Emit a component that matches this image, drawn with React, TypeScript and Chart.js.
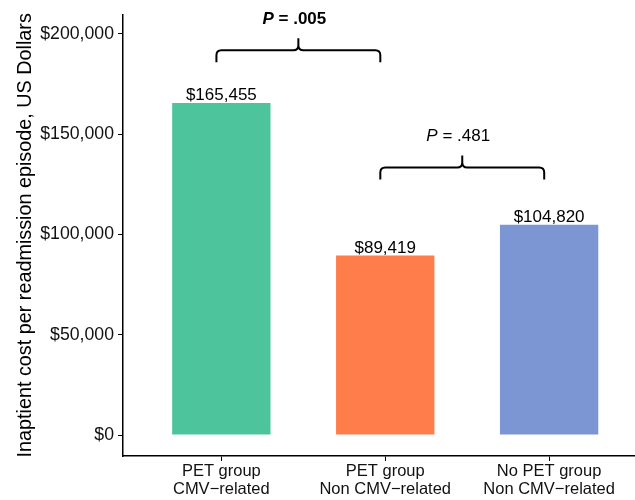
import React, { useEffect, useRef } from "react";
import { Chart, registerables } from "chart.js";

Chart.register(...registerables);

const categories: string[][] = [
  ["PET group", "CMV\u2212related"],
  ["PET group", "Non CMV\u2212related"],
  ["No PET group", "Non CMV\u2212related"],
];
const costs: number[] = [165455, 89419, 104820];
const barColors: string[] = ["#4DC49C", "#FF7D4B", "#7B96D2"];
const yTicks: number[] = [0, 50000, 100000, 150000, 200000];

// significance brackets: compared categories (1-based), bracket level, p-value text
const bracketPairs: number[][] = [
  [1, 2],
  [2, 3],
];
const bracketLevels: number[] = [191800, 133300];
const pLabels: string[] = [" = .005", " = .481"];
const pBold: boolean[] = [true, false];

const FONT = "'Liberation Sans', Arial, Helvetica, sans-serif";

const fmtDollar = (v: number) => "$" + Math.round(v).toLocaleString("en-US");

const valueLabelPlugin = {
  id: "valueLabels",
  afterDatasetsDraw(chart: any) {
    const ctx = chart.ctx;
    const meta = chart.getDatasetMeta(0);
    ctx.save();
    ctx.font = `17px ${FONT}`;
    ctx.fillStyle = "#000";
    ctx.textAlign = "center";
    ctx.textBaseline = "bottom";
    meta.data.forEach((el: any, i: number) => {
      ctx.fillText(fmtDollar(costs[i]), el.x, el.y + 1);
    });
    ctx.restore();
  },
};

const bracketPlugin = {
  id: "brackets",
  afterDraw(chart: any) {
    const ctx = chart.ctx;
    const xs = chart.scales.x;
    const ys = chart.scales.y;
    ctx.save();
    ctx.strokeStyle = "#000";
    ctx.lineWidth = 2;
    ctx.lineJoin = "round";
    bracketPairs.forEach((pair, i) => {
      const x1 = xs.getPixelForValue(pair[0] - 0.03);
      const x2 = xs.getPixelForValue(pair[1] - 0.03);
      const xm = (x1 + x2) / 2;
      const yh = ys.getPixelForValue(bracketLevels[i]);
      const yEnd = yh + 12;
      const yTip = yh - 12;
      const r = 5;
      ctx.beginPath();
      ctx.moveTo(x1, yEnd);
      ctx.lineTo(x1, yh + r);
      ctx.quadraticCurveTo(x1, yh, x1 + r, yh);
      ctx.lineTo(xm - r, yh);
      ctx.quadraticCurveTo(xm, yh, xm, yh - r);
      ctx.lineTo(xm, yTip);
      ctx.moveTo(xm, yh - r);
      ctx.quadraticCurveTo(xm, yh, xm + r, yh);
      ctx.lineTo(x2 - r, yh);
      ctx.quadraticCurveTo(x2, yh, x2, yh + r);
      ctx.lineTo(x2, yEnd);
      ctx.stroke();

      const weight = pBold[i] ? "bold " : "";
      const fontP = `italic ${weight}17px ${FONT}`;
      const fontRest = `${weight}17px ${FONT}`;
      ctx.font = fontP;
      const wP = ctx.measureText("P").width;
      ctx.font = fontRest;
      const wR = ctx.measureText(pLabels[i]).width;
      const total = wP + wR;
      const tx = xm - 4 - total / 2;
      const ty = yh - 31;
      ctx.fillStyle = "#000";
      ctx.textAlign = "left";
      ctx.textBaseline = "middle";
      ctx.font = fontP;
      ctx.fillText("P", tx, ty);
      ctx.font = fontRest;
      ctx.fillText(pLabels[i], tx + wP, ty);
    });
    ctx.restore();
  },
};

export default function App() {
  const ref = useRef<HTMLCanvasElement | null>(null);
  useEffect(() => {
    if (!ref.current) return;
    const chart = new Chart(ref.current, {
      type: "bar",
      data: {
        datasets: [
          {
            data: costs.map((v, i) => ({ x: i + 1, y: v })),
            backgroundColor: barColors,
            borderWidth: 0,
            barPercentage: 0.6,
            categoryPercentage: 1,
          },
        ],
      },
      options: {
        responsive: false,
        animation: false,
        layout: { padding: { left: 0, right: 0, top: 14, bottom: 0 } },
        plugins: {
          legend: { display: false },
          tooltip: { enabled: false },
        },
        scales: {
          x: {
            type: "linear",
            offset: false,
            min: 0.4,
            max: 3.524,
            afterBuildTicks: (axis: any) => {
              axis.ticks = categories.map((_, i) => ({ value: i + 1 }));
            },
            afterFit: (axis: any) => {
              axis.height = 44;
            },
            grid: {
              offset: false,
              drawOnChartArea: false,
              drawTicks: true,
              tickLength: 5,
              tickColor: "#000",
              tickWidth: 1,
            },
            border: { display: true, color: "#000", width: 1.5 },
            ticks: {
              autoSkip: false,
              maxRotation: 0,
              padding: 2,
              color: "#111",
              font: { family: FONT, size: 16.5, lineHeight: 1.05 },
              callback: (v: any) => categories[Number(v) - 1] ?? "",
            },
          },
          y: {
            type: "linear",
            min: -10450,
            max: 209500,
            afterBuildTicks: (axis: any) => {
              axis.ticks = yTicks.map((v) => ({ value: v }));
            },
            afterFit: (axis: any) => {
              axis.width = 123;
            },
            grid: {
              drawOnChartArea: false,
              drawTicks: true,
              tickLength: 5,
              tickColor: "#000",
              tickWidth: 1,
            },
            border: { display: true, color: "#000", width: 1.5 },
            ticks: {
              padding: 4,
              color: "#111",
              font: { family: FONT, size: 17.7 },
              callback: (v: any) => fmtDollar(Number(v)),
            },
            title: {
              display: true,
              text: "Inaptient cost per readmission episode, US Dollars",
              color: "#000",
              font: { family: FONT, size: 19.8 },
              padding: { top: 14, bottom: 0 },
            },
          },
        },
      },
      plugins: [valueLabelPlugin, bracketPlugin],
    });
    return () => chart.destroy();
  }, []);
  return (
    <div style={{ position: "fixed", left: 0, top: 0, width: 635, height: 500, background: "#fff" }}>
      <canvas ref={ref} width={635} height={500} />
    </div>
  );
}
